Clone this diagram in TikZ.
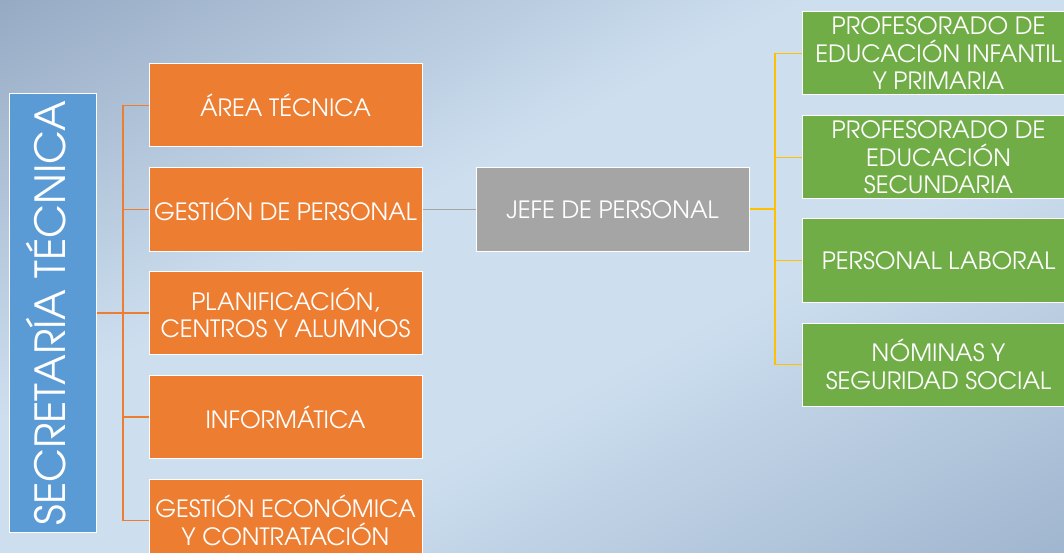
\documentclass[tikz,border=0pt]{standalone}
\usepackage{fontspec}
\setmainfont{TeX Gyre Adventor}
\definecolor{bgA}{RGB}{150,170,196}
\definecolor{bgB}{RGB}{205,223,239}
\definecolor{bgC}{RGB}{160,181,207}
\definecolor{orng}{RGB}{237,125,49}
\definecolor{gry}{RGB}{165,165,165}
\definecolor{grn}{RGB}{112,173,71}
\definecolor{blu}{RGB}{91,155,213}
\definecolor{ylw}{RGB}{255,192,0}
\pgfdeclareverticalshading{bgsh}{100bp}{color(0bp)=(bgC); color(25bp)=(bgC); color(44bp)=(bgB); color(56bp)=(bgB); color(75bp)=(bgA); color(100bp)=(bgA)}
\begin{document}
\begin{tikzpicture}[x=1pt,y=-1pt,
  box/.style={draw=white, line width=1pt, minimum width=273pt, minimum height=83pt,
    align=center, text=white, inner sep=0pt, font=\fontsize{23.8}{27.5}\selectfont},
  obox/.style={box, fill=orng},
  gbox/.style={box, fill=grn},
  graybox/.style={box, fill=gry, minimum height=84pt},
  oline/.style={draw=orng, line width=1.4pt},
  gyline/.style={draw=gry, line width=1.4pt},
  yline/.style={draw=ylw, line width=1.4pt}]
\useasboundingbox (0,0) rectangle (1064,553);
\begin{scope}
\clip (0,0) rectangle (1064,553);
\shade[shading=bgsh, transform canvas={rotate around={27.5:(532,276.5)}}] (-68,-214.5) rectangle (1132,767.5);
\end{scope}

\node[draw=white, line width=1pt, fill=blu, rotate=90, minimum width=438pt, minimum height=87pt,
  inner sep=0pt, text height=26pt, text depth=0pt, text=white, font=\fontsize{41.5}{46}\selectfont] (sec) at (52.5,313) {SECRETARÍA TÉCNICA};

\node[obox] (a1) at (285.5,105.5) {ÁREA TÉCNICA};
\node[obox] (a2) at (285.5,209.5) {GESTIÓN DE PERSONAL};
\node[obox] (a3) at (285.5,313) {PLANIFICACIÓN,\\CENTROS Y ALUMNOS};
\node[obox] (a4) at (285.5,417) {INFORMÁTICA};
\node[obox] (a5) at (285.5,520.5) {GESTIÓN ECONÓMICA\\Y CONTRATACIÓN};

\node[graybox] (jefe) at (612.5,209.5) {JEFE DE PERSONAL};

\node[gbox] (g1) at (938.5,53.5) {PROFESORADO DE\\EDUCACIÓN INFANTIL\\Y PRIMARIA};
\node[gbox] (g2) at (938.5,157.5) {PROFESORADO DE\\EDUCACIÓN\\SECUNDARIA};
\node[gbox] (g3) at (938.5,260.5) {PERSONAL LABORAL};
\node[gbox] (g4) at (938.5,364.5) {NÓMINAS Y\\SEGURIDAD SOCIAL};

\coordinate (tk) at (123,313);
\draw[oline, line width=2pt] (sec.south) -- (tk);
\draw[oline] (tk) |- (a1.west);
\draw[oline] (tk) |- (a2.west);
\draw[oline] (tk) -- (a3.west);
\draw[oline] (tk) |- (a4.west);
\draw[oline] (tk) |- (a5.west);

\draw[gyline] (a2.east) -- (jefe.west);

\coordinate (yk) at (775,209.5);
\draw[yline, line width=2pt] (jefe.east) -- (yk);
\draw[yline] (yk) |- (g1.west);
\draw[yline] (yk) |- (g2.west);
\draw[yline] (yk) |- (g3.west);
\draw[yline] (yk) |- (g4.west);
\end{tikzpicture}
\end{document}
